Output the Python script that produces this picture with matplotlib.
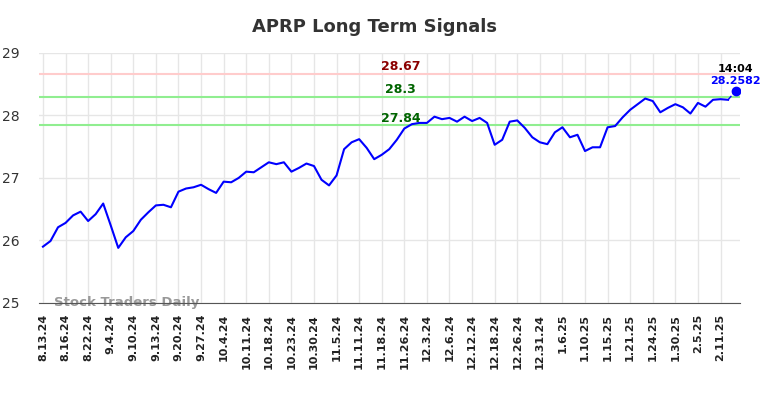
import matplotlib
matplotlib.use('Agg')
import matplotlib.pyplot as plt

# price readings, one per plotted session
prices = [25.90, 25.99, 26.21, 26.28, 26.40, 26.46, 26.31, 26.42, 26.59, 26.24,
          25.88, 26.05, 26.15, 26.33, 26.45, 26.56, 26.57, 26.53, 26.78, 26.83,
          26.85, 26.89, 26.82, 26.76, 26.94, 26.93, 27.00, 27.10, 27.09, 27.17,
          27.25, 27.22, 27.25, 27.10, 27.16, 27.23, 27.19, 26.97, 26.88, 27.04,
          27.46, 27.57, 27.62, 27.48, 27.30, 27.37, 27.46, 27.61, 27.79, 27.86,
          27.88, 27.88, 27.98, 27.94, 27.96, 27.90, 27.98, 27.91, 27.96, 27.88,
          27.53, 27.61, 27.90, 27.92, 27.80, 27.65, 27.57, 27.54, 27.73, 27.81,
          27.65, 27.69, 27.43, 27.49, 27.49, 27.81, 27.83, 27.97, 28.09, 28.18,
          28.27, 28.23, 28.05, 28.12, 28.18, 28.13, 28.03, 28.20, 28.14, 28.25,
          28.26, 28.25]
last_price = 28.39
last_label = "28.2582"
last_time = "14:04"

date_labels = ["8.13.24", "8.16.24", "8.22.24", "9.4.24", "9.10.24", "9.13.24",
               "9.20.24", "9.27.24", "10.4.24", "10.11.24", "10.18.24", "10.23.24",
               "10.30.24", "11.5.24", "11.11.24", "11.18.24", "11.26.24", "12.3.24",
               "12.6.24", "12.12.24", "12.18.24", "12.26.24", "12.31.24", "1.6.25",
               "1.10.25", "1.15.25", "1.21.25", "1.24.25", "1.30.25", "2.5.25",
               "2.11.25"]

levels = [28.67, 28.3, 27.84]
level_colors = ["#ffcccc", "#90ee90", "#90ee90"]
level_text_colors = ["#8b0000", "#006400", "#006400"]

fig = plt.figure(figsize=(7.84, 3.98), dpi=100)
ax = fig.add_axes([0.05, 0.239, 0.894, 0.628])

x = list(range(len(prices)))
ticks = list(range(0, len(date_labels) * 3, 3))

for lv, c, tc in zip(levels, level_colors, level_text_colors):
    ax.axhline(lv, color=c, lw=1.5, zorder=1)
    ax.text(47.5, lv + 0.01, str(lv), color=tc, fontsize=9, fontweight='bold',
            ha='center', va='bottom')

ax.plot(x, prices, color='blue', lw=1.5, zorder=3)
ax.plot([x[-1], x[-1] + 1], [prices[-1], last_price], color='blue', lw=1, ls='--', zorder=3)
ax.plot([x[-1] + 1], [last_price], 'o', color='blue', ms=6, zorder=4)
ax.text(x[-1] + 1, last_price + 0.27, last_time, color='black', fontsize=8,
        fontweight='bold', ha='center', va='bottom')
ax.text(x[-1] + 1, last_price + 0.08, last_label, color='blue', fontsize=8,
        fontweight='bold', ha='center', va='bottom')

ax.text(1.5, 25.0, "Stock Traders Daily", color='#999999', fontsize=9.5,
        fontweight='bold', ha='left', va='center', zorder=2)

ax.set_xlim(-0.5, 92.6)
ax.set_ylim(25, 29)
ax.set_yticks([25, 26, 27, 28, 29])
ax.set_xticks(ticks)
ax.set_xticklabels(date_labels, rotation=90, fontsize=8, fontweight='bold', color='#222222')
ax.tick_params(axis='y', labelsize=10, colors='#333333', length=0, pad=14)
ax.tick_params(axis='x', length=0, pad=8)
ax.grid(True, color='#e6e6e6', lw=1)
ax.set_axisbelow(True)
for s in ['left', 'right', 'top']:
    ax.spines[s].set_visible(False)
ax.spines['bottom'].set_color('#555555')

fig.suptitle("APRP Long Term Signals", x=0.478, y=0.955, fontsize=13,
             fontweight='bold', color='#333333')

fig.savefig('out.png', dpi=100)
